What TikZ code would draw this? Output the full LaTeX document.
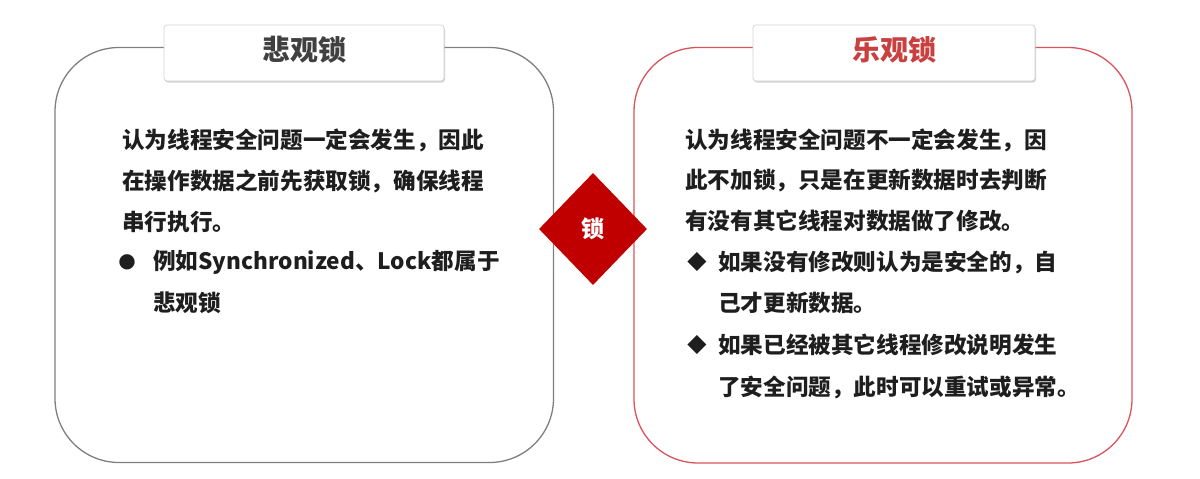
\documentclass[tikz,border=0pt]{standalone}
\usepackage{fontspec}
\newfontfamily\cjk{Noto Sans CJK SC}
\newfontfamily\sym{DejaVu Sans}
\usetikzlibrary{shapes.geometric,shadows}
\definecolor{txt}{HTML}{1E1E1E}
\definecolor{grayline}{HTML}{7F7F7F}
\definecolor{redline}{HTML}{D9535C}
\definecolor{redtitle}{HTML}{C8403F}
\definecolor{diam}{HTML}{C00000}
\definecolor{tabline}{HTML}{D4D4D4}
\tikzset{
  x=1pt, y=-1pt,
  panel/.style={line width=1.3pt, rounded corners=64pt},
  tabbox/.style={draw=tabline, line width=0.8pt, fill=white, rounded corners=3pt,
    drop shadow={opacity=0.35, shadow xshift=1pt, shadow yshift=-1.5pt}},
  title/.style={font=\cjk\bfseries\fontsize{28}{32}\selectfont},
  body/.style={anchor=west, inner sep=0pt, text=txt, font=\cjk\bfseries\fontsize{22.6}{28}\selectfont},
  bul/.style={anchor=center, inner sep=0pt, text=txt, font=\sym\fontsize{25}{28}\selectfont},
}
\begin{document}
\begin{tikzpicture}
\useasboundingbox (0,0) rectangle (1200,479);
% panels
\draw[panel, draw=grayline] (55,47.5) rectangle (553.5,462.5);
\draw[panel, draw=redline] (634,47.5) rectangle (1132,463);
% tabs
\node[tabbox, minimum width=280pt, minimum height=56pt, inner sep=0pt] (tabL) at (304,53) {};
\node[title, text=black!75] (titleL) at (304,50) {悲观锁};
\node[tabbox, minimum width=282pt, minimum height=56pt, inner sep=0pt] (tabR) at (894,53) {};
\node[title, text=redtitle] (titleR) at (894,50) {乐观锁};
% diamond
\node[diamond, fill=diam, inner sep=0pt, minimum width=108pt, minimum height=112pt,
  text=white, font=\cjk\bfseries\fontsize{23}{26}\selectfont] (lock) at (593,229) {锁};
% left text
\node[body] (l1) at (122,140) {认为线程安全问题一定会发生，因此};
\node[body] (l2) at (122,181) {在操作数据之前先获取锁，确保线程};
\node[body] (l3) at (122,222) {串行执行。};
\node[bul, font=\sym\fontsize{20}{24}\selectfont] (lb1) at (127,262) {●};
\node[body] (l4) at (153,262) {例如Synchronized、Lock都属于};
\node[body] (l5) at (153,303) {悲观锁};
% right text
\node[body] (r1) at (685,140) {认为线程安全问题不一定会发生，因};
\node[body] (r2) at (685,180) {此不加锁，只是在更新数据时去判断};
\node[body] (r3) at (685,221) {有没有其它线程对数据做了修改。};
\node[bul] (rb1) at (697,262) {◆};
\node[body] (r4) at (718,262) {如果没有修改则认为是安全的，自};
\node[body] (r5) at (718,303) {己才更新数据。};
\node[bul] (rb2) at (697,345) {◆};
\node[body] (r6) at (718,345) {如果已经被其它线程修改说明发生};
\node[body] (r7) at (718,387) {了安全问题，此时可以重试或异常。};
\end{tikzpicture}
\end{document}
